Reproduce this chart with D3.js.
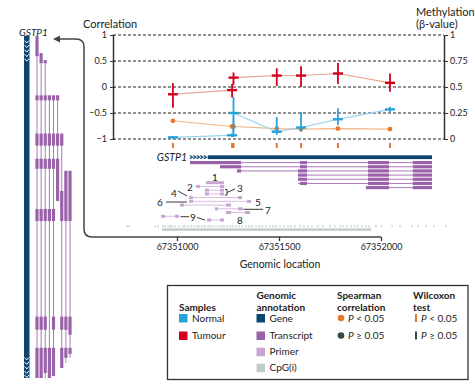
<!DOCTYPE html>
<html>
<head>
<meta charset="utf-8">
<script src="https://cdn.jsdelivr.net/npm/d3@7"></script>
<style>
  body { margin: 0; background: #fff; }
  svg { font-family: Lato, "Open Sans", sans-serif; }
</style>
</head>
<body>
<svg id="chart" width="475" height="385"></svg>
<script>
// probes (genomic position) and their values
const probePos    = [67350980, 67351270, 67351277, 67351489, 67351608, 67351789, 67352044];
const tumourBeta  = [0.43, 0.47, 0.59, 0.61, 0.61, 0.63, 0.54];
const tumourLow   = [0.30, 0.40, 0.52, 0.51, 0.50, 0.53, 0.455];
const tumourHigh  = [0.535, 0.53, 0.64, 0.68, 0.70, 0.73, 0.63];
const normalBeta  = [0.016, 0.036, 0.25, 0.07, 0.11, 0.19, 0.285];
const normalLow   = [0.003, 0.02, 0.02, 0.04, 0.07, 0.135, 0.26];
const normalHigh  = [0.03, 0.05, 0.405, 0.21, 0.26, 0.295, 0.31];
const spearmanRho = [-0.65, -0.76, -0.76, -0.80, -0.81, -0.80, -0.81];
const spearmanSig = [true, true, true, true, true, true, true];
const wilcoxonSig = [true, true, true, true, true, true, true];

const corrTicks = [-1, -0.5, 0, 0.5, 1];
const betaTicks = [0, 0.25, 0.5, 0.75, 1];
const genomeTicks = [67351000, 67351500, 67352000];

// gene annotation
const geneSpan = [67351064, 67352250];
const geneChevrons = [67351068, 67351085, 67351102, 67351119, 67351136];
const transcriptSpans = [
  [67351064, 67352250], [67351211, 67352250], [67351294, 67352250],
  [67351593, 67352250], [67351593, 67352250], [67351593, 67352250], [67351926, 67352250]
];
const transcriptExons = [
  [[67351064, 67351314], [67351603, 67351637], [67351936, 67352039], [67352156, 67352250]],
  [[67351211, 67351314], [67351603, 67351637], [67351936, 67352039], [67352156, 67352250]],
  [[67351294, 67351314], [67351593, 67351637], [67351936, 67352039], [67352156, 67352250]],
  [[67351593, 67351637], [67351936, 67352039], [67352156, 67352250]],
  [[67351593, 67351637], [67351936, 67352039], [67352156, 67352250]],
  [[67351603, 67351637], [67351936, 67352039], [67352156, 67352250]],
  [[67351926, 67352039], [67352156, 67352250]]
];

// primer pairs
const primerFwd = [
  [67351142, 67351186], [67351093, 67351113], [67351137, 67351157], [67351137, 67351157],
  [67351059, 67351078], [67351059, 67351078], [67351015, 67351034], [67351186, 67351201],
  [67351240, 67351265], [67350922, 67350941], [67351147, 67351167]
];
const primerRev = [
  [67351186, 67351230], [67351211, 67351230], [67351211, 67351230], [67351211, 67351230],
  [67351299, 67351319], [67351343, 67351363], [67351240, 67351265], [67351299, 67351323],
  [67351333, 67351358], [67350990, 67351010], [67351211, 67351230]
];
const primerLabels = ["1", "2", "3", "4", "5", "6", "7", "8", "9"];

// CpG
const cpgIsland = [67350926, 67351951];
const cpgSites = [67350755, 67350765, 67350892, 67350907, 67350931, 67350941, 67350956, 67350966,
  67350975, 67350990, 67351010, 67351029, 67351039, 67351054, 67351069, 67351083, 67351098,
  67351108, 67351123, 67351137, 67351152, 67351162, 67351176, 67351191, 67351206, 67351220,
  67351230, 67351245, 67351260, 67351274, 67351289, 67351304, 67351318, 67351338, 67351353,
  67351367, 67351387, 67351402, 67351416, 67351436, 67351456, 67351470, 67351485, 67351505,
  67351524, 67351544, 67351559, 67351578, 67351603, 67351622, 67351642, 67351661, 67351691,
  67351715, 67351750, 67351774, 67351799, 67351813, 67351833, 67351853, 67351872, 67351887,
  67351906, 67351926, 67351941, 67351975, 67352004, 67352054, 67352093, 67352152, 67352181,
  67352220, 67352259, 67352318];

// whole-gene view on the left (bp from gene start)
const leftGene = [0, 3400];
const leftChevrons = [60, 105, 150, 195, 240, 3210, 3255, 3300, 3345, 3385];
const leftSpans = [[0, 3400], [170, 3400], [240, 3400], [590, 3400], [590, 3380], [590, 1640], [970, 3300], [1340, 3250], [1340, 3200]];
const leftExons = [
  [[0, 200], [590, 640], [970, 1090], [1220, 1320], [1720, 1840], [2790, 2920], [3100, 3400]],
  [[170, 270], [590, 640], [970, 1090], [1220, 1320], [1720, 1840], [2790, 2920], [3100, 3400]],
  [[240, 270], [590, 640], [970, 1090], [1220, 1320], [1720, 1840], [2790, 2920], [3100, 3350]],
  [[590, 640], [970, 1090], [1220, 1320], [1720, 1840], [3100, 3400]],
  [[590, 640], [970, 1090], [1220, 1320], [1720, 1840], [2790, 2920], [3100, 3380]],
  [[590, 640], [970, 1090], [1220, 1640]],
  [[970, 1090], [1540, 1840], [2790, 2920], [3100, 3300]],
  [[1340, 1840], [2790, 2920], [3100, 3200]],
  [[1340, 1840], [2790, 2970], [3100, 3160]]
];

const C = {
  normal: "#27a3dc", normalLine: "#8fcfec",
  tumour: "#d3001c", tumourLine: "#e9a38f",
  gene: "#0c4670", transcript: "#9a62a8", transcriptLine: "#a77bb4",
  primer: "#c8a4d3", primerLine: "#d6bddf", cpg: "#bfcdc7",
  orange: "#e5782b", orangeLine: "#f1b588", grey: "#3b454a"
};

const svg = d3.select("#chart");

const x = d3.scaleLinear().domain([67351000, 67352000]).range([177, 381]);
const yCorr = d3.scaleLinear().domain([-1, 1]).range([139, 35]);
const yBeta = d3.scaleLinear().domain([0, 1]).range([139, 35]);

// gridlines
svg.append("g").selectAll("line").data(corrTicks).enter().append("line")
  .attr("x1", 113).attr("x2", 444)
  .attr("y1", d => yCorr(d)).attr("y2", d => yCorr(d))
  .attr("stroke", "#222").attr("stroke-width", 1.1).attr("stroke-dasharray", "3,2");

// axes
const leftAxis = d3.axisLeft(yCorr).tickValues(corrTicks).tickSize(4).tickSizeOuter(0).tickPadding(2)
  .tickFormat(d3.format(""));
const gl = svg.append("g").attr("transform", "translate(113,0)").call(leftAxis);
const rightAxis = d3.axisRight(yBeta).tickValues(betaTicks).tickSize(4).tickSizeOuter(0).tickPadding(2)
  .tickFormat(d3.format(""));
const gr = svg.append("g").attr("transform", "translate(444,0)").call(rightAxis);
[gl, gr].forEach(g => {
  g.select(".domain").attr("stroke", "#333").attr("stroke-width", 1.5);
  g.selectAll(".tick line").attr("stroke", "#333");
  g.selectAll("text").attr("font-size", 9).attr("fill", "#222").attr("font-family", "Lato, sans-serif");
});
gl.selectAll(".tick line").attr("x2", 2).attr("x1", -3);

svg.append("text").attr("x", 83).attr("y", 28).attr("font-size", 11).attr("fill", "#222").text("Correlation");
svg.append("text").attr("x", 416).attr("y", 16).attr("font-size", 11).attr("fill", "#222").text("Methylation");
svg.append("text").attr("x", 416).attr("y", 28).attr("font-size", 11).attr("fill", "#222").text("(β-value)");

// series lines
const idx = d3.range(probePos.length);
const line = d3.line().x(i => x(probePos[i]));
svg.append("path").attr("d", line.y(i => yCorr(spearmanRho[i]))(idx))
  .attr("fill", "none").attr("stroke", C.orangeLine).attr("stroke-width", 1.1);
svg.append("path").attr("d", line.y(i => yBeta(normalBeta[i]))(idx))
  .attr("fill", "none").attr("stroke", C.normalLine).attr("stroke-width", 1.1);
svg.append("path").attr("d", line.y(i => yBeta(tumourBeta[i]))(idx))
  .attr("fill", "none").attr("stroke", C.tumourLine).attr("stroke-width", 1.1);

svg.append("g").selectAll("circle").data(idx).enter().append("circle")
  .attr("cx", i => x(probePos[i])).attr("cy", i => yCorr(spearmanRho[i])).attr("r", 2.4)
  .attr("fill", i => spearmanSig[i] ? C.orange : C.grey);

function crosses(vals, lo, hi, color) {
  const g = svg.append("g").attr("stroke", color);
  g.selectAll(".err").data(idx).enter().append("line")
    .attr("x1", i => x(probePos[i])).attr("x2", i => x(probePos[i]))
    .attr("y1", i => yBeta(lo[i])).attr("y2", i => yBeta(hi[i]))
    .attr("stroke-width", 1.8);
  g.selectAll(".mean").data(idx).enter().append("line")
    .attr("x1", i => x(probePos[i]) - 5).attr("x2", i => x(probePos[i]) + 5)
    .attr("y1", i => yBeta(vals[i])).attr("y2", i => yBeta(vals[i]))
    .attr("stroke-width", 2.4);
}
crosses(normalBeta, normalLow, normalHigh, C.normal);
crosses(tumourBeta, tumourLow, tumourHigh, C.tumour);

// Wilcoxon ticks
svg.append("g").selectAll("rect").data(idx).enter().append("rect")
  .attr("x", i => x(probePos[i]) - 1).attr("y", 143).attr("width", 2).attr("height", 5)
  .attr("fill", i => wilcoxonSig[i] ? C.orange : C.grey);

// gene track
svg.append("text").attr("x", 187).attr("y", 161).attr("text-anchor", "end")
  .attr("font-size", 10.5).attr("font-style", "italic").attr("fill", "#222").text("GSTP1");
svg.append("rect").attr("x", x(geneChevrons[geneChevrons.length - 1]) + 3).attr("y", 155.3)
  .attr("width", x(geneSpan[1]) - x(geneChevrons[geneChevrons.length - 1]) - 3).attr("height", 3.8)
  .attr("fill", C.gene);
svg.append("g").selectAll("path").data(geneChevrons).enter().append("path")
  .attr("d", d => `M${x(d) - 1},155.6 L${x(d) + 1.6},157.2 L${x(d) - 1},158.8`)
  .attr("fill", "none").attr("stroke", C.gene).attr("stroke-width", 1.2);

const tRow = d3.scalePoint().domain(d3.range(transcriptSpans.length)).range([162.6, 187.6]);
const tg = svg.append("g");
transcriptSpans.forEach((s, r) => {
  tg.append("line").attr("x1", x(s[0])).attr("x2", x(s[1]))
    .attr("y1", tRow(r)).attr("y2", tRow(r)).attr("stroke", C.transcriptLine).attr("stroke-width", 1);
  tg.selectAll(null).data(transcriptExons[r]).enter().append("rect")
    .attr("x", e => x(e[0])).attr("width", e => x(e[1]) - x(e[0]))
    .attr("y", tRow(r) - 1.6).attr("height", 3.2).attr("fill", C.transcript);
});

// primers
const pRow = d3.scalePoint().domain(d3.range(primerFwd.length)).range([182.7, 220]);
const pg = svg.append("g");
primerFwd.forEach((f, r) => {
  const rv = primerRev[r];
  pg.append("line").attr("x1", x(f[1])).attr("x2", x(rv[0]))
    .attr("y1", pRow(r)).attr("y2", pRow(r)).attr("stroke", C.primerLine).attr("stroke-width", 1);
  [f, rv].forEach(p => pg.append("rect").attr("x", x(p[0])).attr("width", x(p[1]) - x(p[0]))
    .attr("y", pRow(r) - 1.5).attr("height", 3).attr("fill", C.primer));
});

// primer labels and leaders
const labelPos = [[215, 177], [190, 187], [240, 188], [174, 193], [258, 202], [160, 202], [268, 210], [240, 220], [193, 217]];
svg.append("g").selectAll("text").data(primerLabels).enter().append("text")
  .attr("x", (d, i) => labelPos[i][0]).attr("y", (d, i) => labelPos[i][1] + 3.6)
  .attr("text-anchor", "middle").attr("font-size", 10).attr("fill", "#222").text(d => d);
const leaders = [
  "M225,189.5 H227 V195 H225", "M227,192.5 L235,189",
  "M178,191 L187,196", "M166,202 H187", "M243.5,209.3 H263",
  "M180.5,216.7 H189", "M197,217.5 L205,220"
];
svg.append("g").selectAll("path").data(leaders).enter().append("path")
  .attr("d", d => d).attr("fill", "none").attr("stroke", "#222").attr("stroke-width", 0.9);

// CpG
svg.append("g").selectAll("rect").data(cpgSites).enter().append("rect")
  .attr("x", d => x(d) - 0.4).attr("y", 225.2).attr("width", 0.9).attr("height", 2.2).attr("fill", "#aab8b2");
svg.append("rect").attr("x", x(cpgIsland[0])).attr("width", x(cpgIsland[1]) - x(cpgIsland[0]))
  .attr("y", 228.4).attr("height", 2.4).attr("fill", C.cpg);

// frame arrow + genomic axis line
svg.append("path").attr("d", "M59,39 H76 Q84,39 84,47 V229 Q84,237 92,237 H381")
  .attr("fill", "none").attr("stroke", "#444").attr("stroke-width", 1.5);
svg.append("path").attr("d", "M53,39 L60,35.5 L60,42.5 Z").attr("fill", "#444");

const gAxis = svg.append("g").attr("transform", "translate(0,237)")
  .call(d3.axisBottom(x).tickValues(genomeTicks).tickSize(4).tickPadding(3).tickFormat(d3.format("d")));
gAxis.select(".domain").remove();
gAxis.selectAll(".tick line").attr("stroke", "#333").attr("stroke-width", 1.3);
gAxis.selectAll("text").attr("font-size", 9).attr("fill", "#222").attr("font-family", "Lato, sans-serif");
svg.append("text").attr("x", 280).attr("y", 268).attr("text-anchor", "middle")
  .attr("font-size", 10.5).attr("fill", "#222").text("Genomic location");

// left whole-gene view
const yLeft = d3.scaleLinear().domain(leftGene).range([36, 378]);
const xLeft = d3.scalePoint().domain(d3.range(leftSpans.length)).range([37, 70]);
svg.append("text").attr("x", 19).attr("y", 36).attr("font-size", 10).attr("font-style", "italic")
  .attr("fill", "#222").text("GSTP1");
svg.append("rect").attr("x", 24).attr("y", yLeft(leftGene[0])).attr("width", 5.5)
  .attr("height", yLeft(leftGene[1]) - yLeft(leftGene[0])).attr("fill", C.gene);
svg.append("g").selectAll("path").data(leftChevrons).enter().append("path")
  .attr("d", d => `M24.6,${yLeft(d) - 1.4} L26.75,${yLeft(d) + 1} L28.9,${yLeft(d) - 1.4}`)
  .attr("fill", "none").attr("stroke", "#fff").attr("stroke-width", 1);
const lg = svg.append("g");
leftSpans.forEach((s, c) => {
  lg.append("line").attr("x1", xLeft(c)).attr("x2", xLeft(c))
    .attr("y1", yLeft(s[0])).attr("y2", yLeft(s[1])).attr("stroke", C.transcriptLine).attr("stroke-width", 1);
  lg.selectAll(null).data(leftExons[c]).enter().append("rect")
    .attr("x", xLeft(c) - 1.6).attr("width", 3.2)
    .attr("y", e => yLeft(e[0])).attr("height", e => yLeft(e[1]) - yLeft(e[0])).attr("fill", C.transcript);
});

// legend
const L = svg.append("g");
L.append("rect").attr("x", 167.5).attr("y", 285.5).attr("width", 300.5).attr("height", 94)
  .attr("fill", "none").attr("stroke", "#333").attr("stroke-width", 1.3);
const head = (xx, lines) => lines.forEach((t, i) => L.append("text").attr("x", xx).attr("y", 298.5 + 12 * (i + 2 - lines.length))
  .attr("font-size", 10).attr("font-weight", "bold").attr("fill", "#222").text(t));
head(179, ["Samples"]);
head(256.5, ["Genomic", "annotation"]);
head(337, ["Spearman", "correlation"]);
head(413, ["Wilcoxon", "test"]);
const rowsY = [318, 335.5, 351.7, 367.7];
const swatch = (xx, yy, col, label) => {
  L.append("rect").attr("x", xx).attr("y", yy - 4).attr("width", 8.5).attr("height", 8.5).attr("fill", col);
  L.append("text").attr("x", xx + 13).attr("y", yy + 3.6).attr("font-size", 10).attr("fill", "#222").text(label);
};
swatch(179, rowsY[0], C.normal, "Normal");
swatch(179, rowsY[1], C.tumour, "Tumour");
swatch(256.5, rowsY[0], C.gene, "Gene");
swatch(256.5, rowsY[1], C.transcript, "Transcript");
swatch(256.5, rowsY[2], C.primer, "Primer");
swatch(256.5, rowsY[3], C.cpg, "CpG(i)");
const pText = (xx, yy, rest) => {
  const t = L.append("text").attr("x", xx).attr("y", yy + 3.6).attr("font-size", 10).attr("fill", "#222");
  t.append("tspan").attr("font-style", "italic").text("P");
  t.append("tspan").text(rest);
};
[[C.orange, " < 0.05"], [C.grey, " ≥ 0.05"]].forEach((d, i) => {
  L.append("circle").attr("cx", 341).attr("cy", rowsY[i]).attr("r", 3.3).attr("fill", d[0]);
  pText(348, rowsY[i], d[1]);
  L.append("rect").attr("x", 415).attr("y", rowsY[i] - 4).attr("width", 2).attr("height", 8).attr("fill", d[0]);
  pText(421, rowsY[i], d[1]);
});
</script>
</body>
</html>
